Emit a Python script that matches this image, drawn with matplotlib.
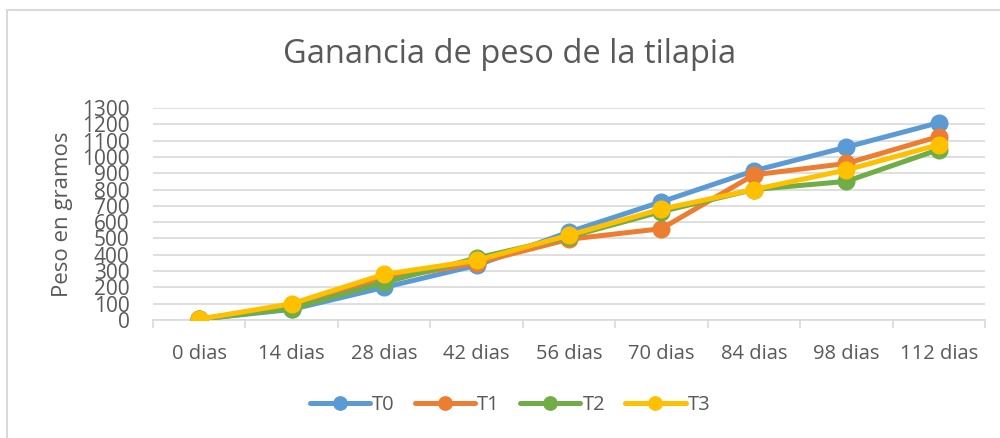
import numpy as np
import matplotlib.pyplot as plt
from matplotlib.patches import Rectangle

plt.rcParams['font.family'] = ['Open Sans', 'DejaVu Sans']

# data
dias = ['0 dias', '14 dias', '28 dias', '42 dias', '56 dias', '70 dias', '84 dias', '98 dias', '112 dias']
t0 = [5, 65, 200, 335, 540, 725, 915, 1060, 1210]
t1 = [5, 90, 250, 350, 495, 560, 890, 960, 1125]
t2 = [5, 70, 230, 380, 510, 665, 800, 850, 1045]
t3 = [5, 100, 280, 365, 520, 680, 800, 920, 1075]

series = [('T0', t0, '#5B9BD5'), ('T1', t1, '#ED7D31'),
          ('T2', t2, '#70AD47'), ('T3', t3, '#FFC000')]

fig = plt.figure(figsize=(10, 4.38), dpi=100)
ax = fig.add_axes([0.153, 0.2694, 0.832, 0.484])

x = np.arange(len(dias))
for name, vals, col in series:
    ax.plot(x, vals, color=col, lw=3.6, marker='o', ms=12, label=name,
            solid_capstyle='round', zorder=3)

ax.set_xlim(-0.5, len(dias) - 0.5)
ax.set_ylim(0, 1300)
ax.set_yticks(np.arange(0, 1301, 100))
ax.yaxis.grid(True, color='#D9D9D9', lw=1.2)
ax.set_axisbelow(True)
for s in ['top', 'right', 'left']:
    ax.spines[s].set_visible(False)
ax.spines['bottom'].set_color('#D9D9D9')
ax.spines['bottom'].set_linewidth(1.2)

ax.set_xticks(x)
ax.set_xticklabels(dias)
ax.set_xticks(np.arange(-0.5, len(dias)), minor=True)
ax.tick_params(axis='x', which='major', length=0, pad=17, labelsize=14.5, labelcolor='#595959')
ax.tick_params(axis='x', which='minor', length=6, color='#D9D9D9', width=1.2)
ax.tick_params(axis='y', length=0, pad=17, labelsize=15, labelcolor='#595959')

ax.set_ylabel('Peso en gramos', fontsize=16, color='#595959', labelpad=6)
fig.text(0.51, 0.875, 'Ganancia de peso de la tilapia', ha='center', va='center',
         fontsize=23.5, color='#595959')

leg = fig.legend(loc='center', bbox_to_anchor=(0.51, 0.075), ncol=4, frameon=False,
                 fontsize=14.5, handlelength=3.0, columnspacing=1.0, handletextpad=0.1,
                 labelcolor='#595959', markerscale=0.8)

fig.patches.append(Rectangle((0.007, -0.05), 1.1, 1.027, transform=fig.transFigure,
                             fill=False, edgecolor='#D9D9D9', lw=1.5))

fig.savefig('out.png', dpi=100, facecolor='white')
